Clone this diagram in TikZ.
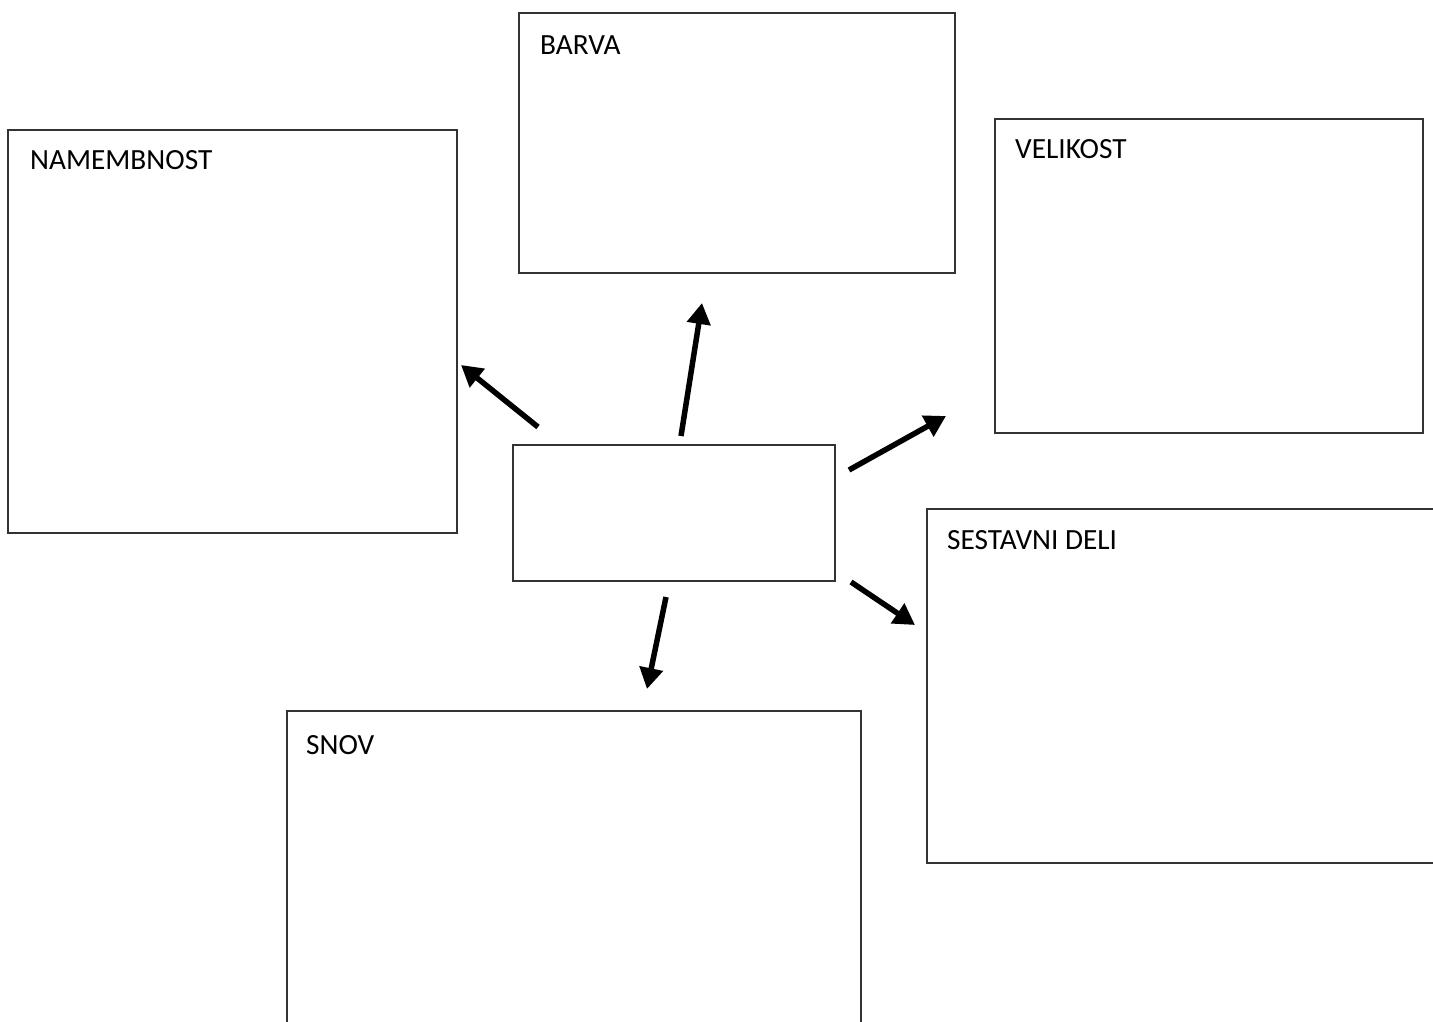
\documentclass[tikz,border=0pt]{standalone}
\usepackage{fontspec}
\setmainfont{Carlito}
\usetikzlibrary{arrows.meta}
\begin{document}
\begin{tikzpicture}[x=1pt,y=-1pt,
  box/.style={draw=black!80,line width=1.2pt,inner sep=0pt,outer sep=0pt,rectangle},
  lbl/.style={anchor=base west,inner sep=0pt,font=\fontsize{29.3}{34}\selectfont},
  arr/.style={line width=5.5pt,-{Triangle[length=21pt,width=23pt]}}]
\useasboundingbox (0,0) rectangle (1433,1021);
\clip (0,0) rectangle (1433,1021);
\fill[white] (0,0) rectangle (1433,1021);
% boxes
\node[box,minimum width=449pt,minimum height=403pt] (nam) at (232.5,331.5) {};
\node[box,minimum width=436pt,minimum height=260pt] (bar) at (737,143) {};
\node[box,minimum width=428pt,minimum height=314pt] (vel) at (1209,276) {};
\node[box,minimum width=322pt,minimum height=136pt] (cen) at (674,513) {};
\node[box,minimum width=540pt,minimum height=354pt] (ses) at (1197,686) {};
\node[box,minimum width=574pt,minimum height=389pt] (sno) at (574,905.5) {};
% labels
\node[lbl] (tnam) at (30,169) {NAMEMBNOST};
\node[lbl] (tbar) at (540,54) {BARVA};
\node[lbl] (tvel) at (1015,158) {VELIKOST};
\node[lbl] (tses) at (947,549) {SESTAVNI DELI};
\node[lbl] (tsno) at (306,754) {SNOV};
% arrow end points
\coordinate (a1) at (538,427); \coordinate (b1) at (461,365);
\coordinate (a2) at (681,436); \coordinate (b2) at (702,303);
\coordinate (a3) at (849,470); \coordinate (b3) at (946,416);
\coordinate (a4) at (851,582); \coordinate (b4) at (915,625);
\coordinate (a5) at (666,597); \coordinate (b5) at (647,689);
\draw[arr] (a1) -- (b1);
\draw[arr] (a2) -- (b2);
\draw[arr] (a3) -- (b3);
\draw[arr] (a4) -- (b4);
\draw[arr] (a5) -- (b5);
\end{tikzpicture}
\end{document}
